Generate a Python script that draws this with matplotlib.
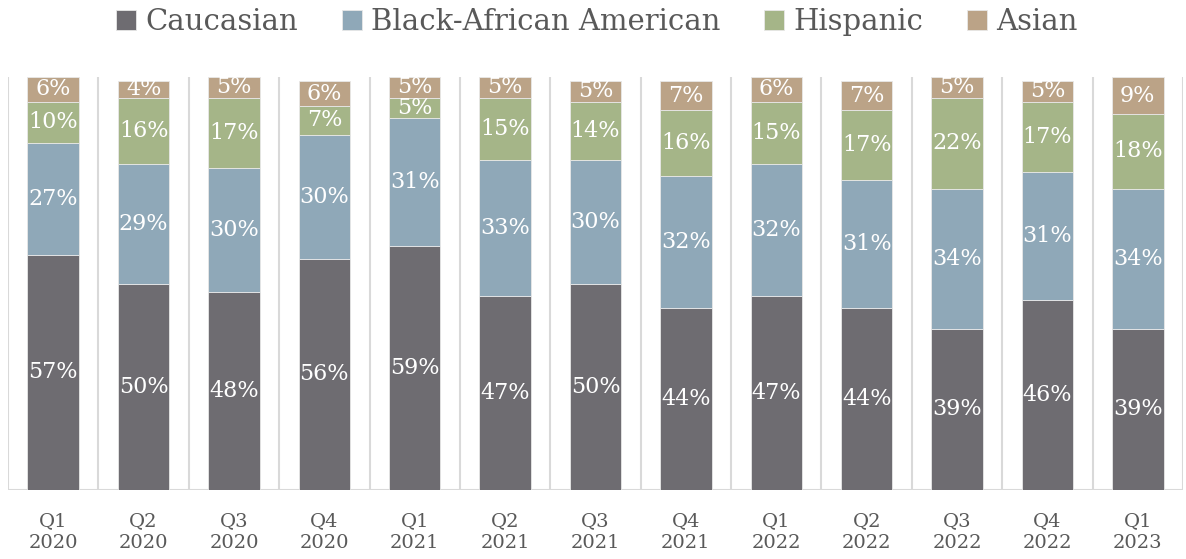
import numpy as np
import matplotlib.pyplot as plt

quarters = ["Q1\n2020", "Q2\n2020", "Q3\n2020", "Q4\n2020",
            "Q1\n2021", "Q2\n2021", "Q3\n2021", "Q4\n2021",
            "Q1\n2022", "Q2\n2022", "Q3\n2022", "Q4\n2022", "Q1\n2023"]
caucasian = [57, 50, 48, 56, 59, 47, 50, 44, 47, 44, 39, 46, 39]
black_african = [27, 29, 30, 30, 31, 33, 30, 32, 32, 31, 34, 31, 34]
hispanic = [10, 16, 17, 7, 5, 15, 14, 16, 15, 17, 22, 17, 18]
asian = [6, 4, 5, 6, 5, 5, 5, 7, 6, 7, 5, 5, 9]

series = [("Caucasian", caucasian, "#6e6c71"),
          ("Black-African American", black_african, "#8fa8b8"),
          ("Hispanic", hispanic, "#a5b588"),
          ("Asian", asian, "#bba387")]

plt.rcParams['font.family'] = ['DejaVu Serif']

fig = plt.figure(figsize=(11.86, 5.59), dpi=100)
ax = fig.add_axes([8/1186, 69/559, 1175/1186, 413/559])

x = np.arange(len(quarters))
bottom = np.zeros(len(quarters))
for name, vals, color in series:
    vals = np.array(vals, dtype=float)
    ax.bar(x, vals, bottom=bottom, width=0.57, color=color, label=name,
           edgecolor="#e8e8e8", linewidth=0.6, zorder=3)
    for xi, b, v in zip(x, bottom, vals):
        ax.text(xi, b + v / 2, f"{int(v)}%", ha="center", va="center",
                color="white", fontsize=16, zorder=4)
    bottom += vals

ax.set_xlim(-0.5, len(quarters) - 0.5)
ax.set_ylim(0, 100)
for b in np.arange(-0.5, len(quarters), 1.0):
    ax.axvline(b, color="#d9d9d9", linewidth=1.5, zorder=1)
for s in ax.spines.values():
    s.set_visible(False)
ax.axhline(0, color="#d9d9d9", linewidth=1.5, zorder=2)
ax.set_yticks([])
ax.set_xticks(x)
ax.set_xticklabels(quarters, fontsize=14, color="#595959", linespacing=1.3)
ax.tick_params(axis="x", length=0, pad=16)

fig.legend(loc="upper center", bbox_to_anchor=(0.503, 1.032), ncol=4,
           frameon=False, fontsize=21, handlelength=0.7, handleheight=0.7,
           handletextpad=0.3, columnspacing=1.5, labelcolor="#595959")

fig.savefig("out.png", dpi=100)
